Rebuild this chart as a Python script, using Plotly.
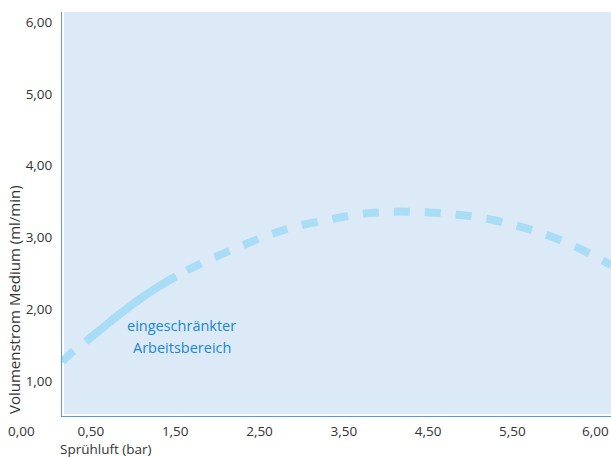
import plotly.graph_objects as go

# Data (Sprühluft in bar, Volumenstrom in ml/min)
spruehluft = [0.157, 0.24, 0.49, 0.73, 0.96, 1.20, 1.51, 1.82, 2.17, 2.52, 2.87, 3.25,
              3.63, 4.01, 4.38, 4.76, 5.14, 5.52, 5.87, 6.23, 6.56, 6.67]
volumenstrom = [1.27, 1.365, 1.60, 1.83, 2.04, 2.24, 2.46, 2.646, 2.827, 2.994, 3.134, 3.231,
                3.315, 3.357, 3.357, 3.329, 3.273, 3.175, 3.050, 2.883, 2.688, 2.618]
# the stretch drawn as a continuous stroke in the reference
solid_from, solid_to = 2, 6

x_ticks = [0.5, 1.5, 2.5, 3.5, 4.5, 5.5]
y_ticks = [1, 2, 3, 4, 5, 6]
x_max_label = "6,00"
origin_label = "0,00"
label_lines = ["eingeschränkter", "Arbeitsbereich"]


def de(v):
    return f"{v:.2f}".replace(".", ",")


line_color = "#a9ddf6"
axis_color = "#5b9bd5"
fill_color = "#dceaf7"
text_color = "#333333"
font_family = "Open Sans, Noto Sans, sans-serif"

W, H = 611, 457
ML, MR, MT, MB = 62, 0, 12, 41
PW, PH = W - ML - MR, H - MT - MB

fig = go.Figure()
# shaded working area, inset slightly from the axis lines
fig.add_shape(type="rect", xref="paper", yref="paper", x0=2 / PW, x1=1, y0=2 / PH, y1=1,
              fillcolor=fill_color, line_width=0, layer="below")

fig.add_trace(go.Scatter(
    x=spruehluft, y=volumenstrom, mode="lines",
    line=dict(color=line_color, width=8, dash="16px,15px", shape="spline", smoothing=1.0),
    hoverinfo="skip", showlegend=False,
))
fig.add_trace(go.Scatter(
    x=spruehluft[solid_from:solid_to + 1], y=volumenstrom[solid_from:solid_to + 1], mode="lines",
    line=dict(color=line_color, width=8, shape="spline", smoothing=1.0),
    hoverinfo="skip", showlegend=False,
))

for txt, yv in zip(label_lines, [1.77, 1.465]):
    fig.add_annotation(x=1.58, y=yv, xref="x", yref="y", text=txt, showarrow=False,
                       font=dict(family=font_family, size=14.5, color="#1a87cf"))

fig.add_annotation(x=1.0, y=0, xref="paper", yref="paper", xanchor="right", yanchor="top",
                   yshift=-4, text=x_max_label, showarrow=False,
                   font=dict(family=font_family, size=13.5, color=text_color))
fig.add_annotation(x=(22 - ML) / PW, y=0, xref="paper", yref="paper", xanchor="center",
                   yanchor="top", yshift=-4, text=origin_label, showarrow=False,
                   font=dict(family=font_family, size=13.5, color=text_color))
fig.add_annotation(x=(58 - ML) / PW, y=0, xref="paper", yref="paper", xanchor="left",
                   yanchor="top", yshift=-22, text="Sprühluft (bar)", showarrow=False,
                   font=dict(family=font_family, size=13.5, color=text_color))
fig.add_annotation(x=(14 - ML) / PW, y=(H - MB - 300) / PH, xref="paper", yref="paper",
                   xanchor="center", yanchor="middle", textangle=-90,
                   text="Volumenstrom Medium (ml/min)", showarrow=False,
                   font=dict(family=font_family, size=15, color=text_color))

fig.update_layout(
    width=W, height=H,
    margin=dict(l=ML, r=MR, t=MT, b=MB),
    paper_bgcolor="white",
    plot_bgcolor="white",
    font=dict(family=font_family, size=13.5, color=text_color),
    xaxis=dict(range=[0.157, 6.67], tickvals=x_ticks, ticktext=[de(v) for v in x_ticks],
               showgrid=False, zeroline=False, showline=True, linecolor=axis_color,
               linewidth=1, ticks="", ticklabelstandoff=3, fixedrange=True),
    yaxis=dict(range=[0.515, 6.14], tickvals=y_ticks, ticktext=[de(v) for v in y_ticks],
               showgrid=False, zeroline=False, showline=True, linecolor=axis_color,
               linewidth=1, ticks="", ticklabelstandoff=6, fixedrange=True),
)

fig.write_html("out.html", config={"displayModeBar": False},
               post_script="document.body.style.margin='0';document.body.style.overflow='hidden';")
